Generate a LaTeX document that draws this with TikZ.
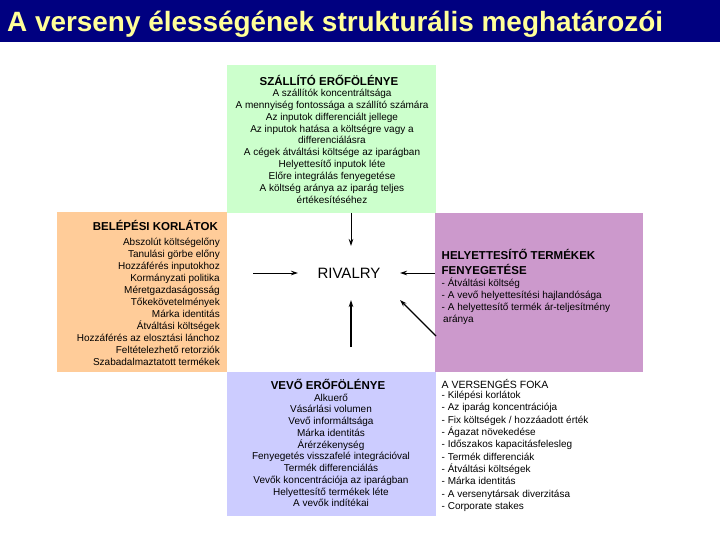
\documentclass[tikz,border=0pt]{standalone}
\usepackage{fontspec}
\setmainfont{Liberation Sans}
\usepackage{xcolor}
\usetikzlibrary{calc,arrows.meta}

\definecolor{titlebg}{RGB}{0,0,128}
\definecolor{titlefg}{RGB}{255,255,153}
\definecolor{supgreen}{RGB}{204,255,204}
\definecolor{entorange}{RGB}{255,204,153}
\definecolor{subpurple}{RGB}{204,153,204}
\definecolor{buyblue}{RGB}{204,204,255}

\begin{document}
\begin{tikzpicture}[x=1pt,y=-1pt,
		box/.style={inner sep=0pt,outer sep=0pt},
		head/.style={inner sep=0pt,font=\fontsize{11.5}{14}\selectfont\bfseries},
		txt/.style={inner sep=0pt,font=\fontsize{10}{12}\selectfont},
		arr/.style={-{Stealth[length=7pt,width=4.5pt]},line width=0.8pt}]
		\useasboundingbox (0,0) rectangle (720,540);
		
		% title bar
		\fill[titlebg] (0,0) rectangle (720,42);
		\node[anchor=base west,inner sep=0pt,text=titlefg,font=\fontsize{27.9}{32}\selectfont\bfseries] (title) at (7,32) {A verseny élességének strukturális meghatározói};
		
		% the five boxes
		\node[box,fill=supgreen,minimum width=209pt,minimum height=148pt] (sup) at (331.5,139) {};
		\node[box,fill=entorange,minimum width=170pt,minimum height=160pt] (ent) at (142,292) {};
		\node[box,fill=subpurple,minimum width=208pt,minimum height=159pt] (sub) at (539,292.5) {};
		\node[box,fill=buyblue,minimum width=209pt,minimum height=144pt] (buy) at (331.5,444) {};
		
		% supplier
		\node[head,anchor=base] (supH) at (329,86) {SZÁLLÍTÓ ERŐFÖLÉNYE};
		\foreach \t [count=\i] in {A szállítók koncentráltsága,A mennyiség fontossága a szállító számára,Az inputok differenciált jellege,Az inputok hatása a költségre vagy a,differenciálásra,A cégek átváltási költsége az iparágban,Helyettesítő inputok léte,Előre integrálás fenyegetése,A költség aránya az iparág teljes,értékesítéséhez}
			\node[txt,anchor=base] (sup\i) at (332,{96.5+11.85*(\i-1)}) {\t};
		
		% entry
		\node[head,anchor=base east] (entH) at (218,230.5) {BELÉPÉSI KORLÁTOK};
		\foreach \t [count=\i] in {Abszolút költségelőny,Tanulási görbe előny,Hozzáférés inputokhoz,Kormányzati politika,Méretgazdaságosság,Tőkekövetelmények,Márka identitás,Átváltási költségek,Hozzáférés az elosztási lánchoz,Feltételezhető retorziók,Szabadalmaztatott termékek}
			\node[txt,anchor=base east] (ent\i) at (220,{245+12*(\i-1)}) {\t};
		
		% substitutes
		\node[head,anchor=base west] (subH1) at (441.5,259) {HELYETTESÍTŐ TERMÉKEK};
		\node[head,anchor=base west] (subH2) at (441.5,274) {FENYEGETÉSE};
		\foreach \t [count=\i] in {- Átváltási költség,- A vevő helyettesítési hajlandósága,- A helyettesítő termék ár-teljesítmény,\hspace{1.5pt}aránya}
			\node[txt,anchor=base west] (sub\i) at (441.5,{286+12.3*(\i-1)}) {\t};
		
		% buyer
		\node[head,anchor=base] (buyH) at (328,389) {VEVŐ ERŐFÖLÉNYE};
		\foreach \t [count=\i] in {Alkuerő,Vásárlási volumen,Vevő informáltsága,Márka identitás,Árérzékenység,Fenyegetés visszafelé integrációval,Termék differenciálás,Vevők koncentrációja az iparágban,Helyettesítő termékek léte,A vevők indítékai}
			\node[txt,anchor=base] (buy\i) at (331,{401+11.75*(\i-1)}) {\t};
		
		% degree of rivalry
		\node[txt,anchor=base west,font=\fontsize{10.5}{12}\selectfont] (degH) at (441.5,388) {A VERSENGÉS FOKA};
		\foreach \t [count=\i] in {- Kilépési korlátok,- Az iparág koncentrációja,- Fix költségek / hozzáadott érték,- Ágazat növekedése,- Időszakos kapacitásfelesleg,- Termék differenciák,- Átváltási költségek,- Márka identitás,- A versenytársak diverzitása,- Corporate stakes}
			\node[txt,anchor=base west] (deg\i) at (441.5,{398.5+12.33*(\i-1)}) {\t};
		
		% rivalry and the arrows
		\node[box,minimum width=102pt,minimum height=54pt,font=\fontsize{15}{18}\selectfont] (rival) at (349,273) {RIVALRY};
		\coordinate (inS) at (351,213);
		\coordinate (inE) at (253,273);
		\coordinate (inSub) at (435,273);
		\coordinate (inB) at (351,347);
		\coordinate (inD) at (436,336);
		\draw[arr] (inS) -- (inS |- rival.north);
		\draw[arr] (inE) -- (rival.west);
		\draw[arr] (inSub) -- (rival.east);
		\draw[arr,line width=1.6pt] (inB) -- (inB |- rival.south);
		\draw[arr,line width=1.1pt] (inD) -- (rival.south east);
	\end{tikzpicture}
\end{document}
